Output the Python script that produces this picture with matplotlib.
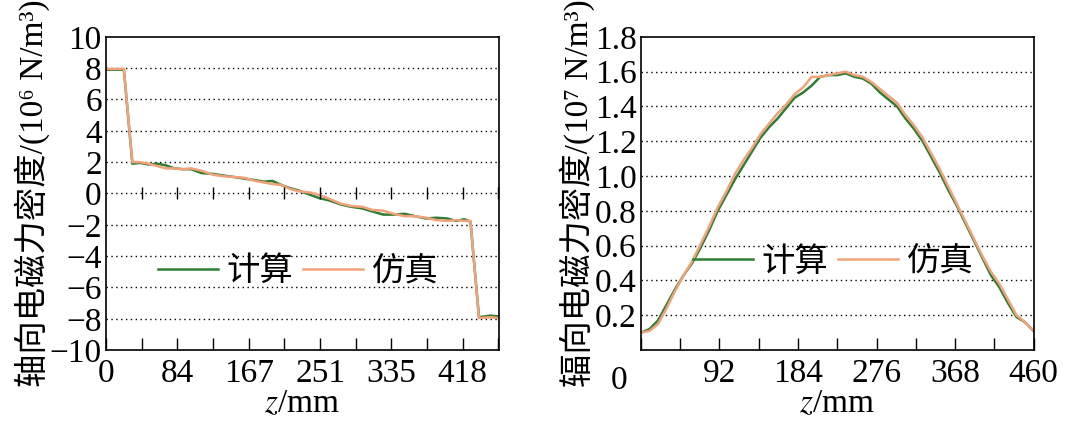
import numpy as np
import matplotlib
matplotlib.use("Agg")
import matplotlib.pyplot as plt

plt.rcParams['font.family'] = ['Liberation Serif', 'DejaVu Serif', 'Noto Sans CJK SC']
plt.rcParams['mathtext.fontset'] = 'stix'

# ---- 数据 ----
z_ax_calc = [0, 10, 21, 31, 40, 50, 60, 70, 80, 90, 100, 112, 125, 137, 150, 162, 175, 185, 195,
             205, 215, 225, 240, 250, 262, 275, 287, 300, 312, 325, 337, 350, 362, 375, 387, 400,
             410, 420, 427, 437, 450, 460]
f_ax_calc = [7.9, 7.9, 7.9, 1.9, 1.95, 1.85, 1.9, 1.8, 1.6, 1.55, 1.55, 1.3, 1.25, 1.15, 1.05, 0.95,
             0.85, 0.75, 0.8, 0.55, 0.35, 0.2, -0.1, -0.3, -0.45, -0.7, -0.85, -0.95, -1.15, -1.35,
             -1.35, -1.3, -1.45, -1.6, -1.55, -1.6, -1.75, -1.65, -1.8, -7.9, -7.8, -7.85]
z_ax_sim = [0, 10, 21, 31, 40, 50, 60, 70, 80, 90, 100, 112, 125, 137, 150, 162, 175, 185, 195,
            205, 215, 225, 240, 250, 262, 275, 287, 300, 312, 325, 337, 350, 362, 375, 387, 400,
            410, 420, 427, 437, 450, 460]
f_ax_sim = [7.95, 7.95, 7.95, 2.0, 2.0, 1.9, 1.75, 1.6, 1.6, 1.55, 1.6, 1.45, 1.2, 1.1, 1.05, 1.0,
            0.8, 0.7, 0.6, 0.55, 0.3, 0.15, 0.05, -0.1, -0.35, -0.65, -0.8, -0.85, -1.05, -1.1,
            -1.3, -1.45, -1.45, -1.55, -1.7, -1.75, -1.7, -1.75, -1.75, -7.95, -7.9, -7.95]

z_rad = [0, 10, 20, 30, 40, 50, 60, 70, 80, 90, 100, 110, 120, 130, 140, 150, 160, 170, 180, 190,
         200, 210, 220, 230, 240, 250, 260, 270, 280, 290, 300, 310, 320, 330, 340, 350, 360, 370,
         380, 390, 400, 410, 420, 430, 440, 450, 460]
f_rad_calc = [0.10, 0.12, 0.17, 0.26, 0.35, 0.43, 0.50, 0.59, 0.69, 0.80, 0.89, 0.98, 1.06, 1.14,
              1.22, 1.28, 1.33, 1.39, 1.45, 1.48, 1.52, 1.57, 1.58, 1.58, 1.59, 1.57, 1.56, 1.53,
              1.48, 1.44, 1.40, 1.33, 1.27, 1.20, 1.11, 1.02, 0.92, 0.83, 0.73, 0.63, 0.53, 0.43,
              0.36, 0.27, 0.19, 0.16, 0.11]
f_rad_sim = [0.10, 0.11, 0.15, 0.24, 0.34, 0.43, 0.51, 0.61, 0.71, 0.82, 0.91, 1.01, 1.09, 1.16,
             1.24, 1.30, 1.36, 1.41, 1.47, 1.51, 1.57, 1.57, 1.58, 1.59, 1.60, 1.58, 1.57, 1.54,
             1.50, 1.46, 1.42, 1.35, 1.29, 1.22, 1.13, 1.04, 0.94, 0.84, 0.74, 0.64, 0.54, 0.45,
             0.38, 0.29, 0.20, 0.16, 0.11]

green = '#2e7d32'
orange = '#f2a27a'
FS = 24

fig = plt.figure(figsize=(10.7, 4.28), dpi=100)
ax1 = fig.add_axes([0.099, 0.182, 0.367, 0.732])
ax2 = fig.add_axes([0.599, 0.182, 0.367, 0.732])

# ---- 左图 ----
ax1.plot(z_ax_calc, f_ax_calc, color=green, lw=1.8, label='计算')
ax1.plot(z_ax_sim, f_ax_sim, color=orange, lw=1.8, label='仿真')
ax1.set_xlim(0, 460)
ax1.set_ylim(-10, 10)
minor1 = [41.8 * i for i in range(12)]
ax1.set_xticks(minor1[::2])
ax1.set_xticklabels(['0', '84', '167', '251', '335', '418'])
ax1.set_xticks(minor1[1::2], minor=True)
ax1.set_yticks(range(-10, 11, 2))
ax1.set_yticklabels([str(v).replace('-', '\u2212') for v in range(-10, 11, 2)])
for y in range(-8, 10, 2):
    ax1.axhline(y, color='black', lw=1, ls=(0, (1, 2.5)), zorder=0)
ax1.plot(minor1[1:], [0] * len(minor1[1:]), ls='none', marker='|', ms=9, mew=1, color='black')
ax1.set_ylabel('轴向电磁力密度/(10⁶ N/m³)', fontsize=FS, labelpad=0)
ax1.set_xlabel('$z$/mm', fontsize=FS, labelpad=0)
ax1.legend(loc='center', bbox_to_anchor=(0.49, 0.25), frameon=False, ncol=2, fontsize=FS,
           handlelength=1.8, columnspacing=0.3, handletextpad=0.25)

# ---- 右图 ----
ax2.plot(z_rad, f_rad_calc, color=green, lw=1.8, label='计算')
ax2.plot(z_rad, f_rad_sim, color=orange, lw=1.8, label='仿真')
ax2.set_xlim(0, 460)
ax2.set_ylim(0, 1.8)
ax2.set_xticks([0, 92, 184, 276, 368, 460])
ax2.set_xticklabels(['', '92', '184', '276', '368', '460'])
ax2.set_xticks([46, 138, 230, 322, 414], minor=True)
ax2.set_yticks([0.2, 0.4, 0.6, 0.8, 1.0, 1.2, 1.4, 1.6, 1.8])
ax2.set_yticklabels(['0.2', '0.4', '0.6', '0.8', '1.0', '1.2', '1.4', '1.6', '1.8'])
for y in [0.2, 0.4, 0.6, 0.8, 1.0, 1.2, 1.4, 1.6]:
    ax2.axhline(y, color='black', lw=1, ls=(0, (1, 2.5)), zorder=0)
ax2.text(-26, -0.09, '0', fontsize=FS, ha='center', va='top')
ax2.set_ylabel('辐向电磁力密度/(10⁷ N/m³)', fontsize=FS, labelpad=0)
ax2.set_xlabel('$z$/mm', fontsize=FS, labelpad=0)
ax2.legend(loc='center', bbox_to_anchor=(0.49, 0.28), frameon=False, ncol=2, fontsize=FS,
           handlelength=1.8, columnspacing=0.3, handletextpad=0.25)

for ax in (ax1, ax2):
    ax.tick_params(axis='x', which='both', direction='in', length=9, width=1, labelsize=FS, pad=6)
    ax.tick_params(axis='y', which='both', length=0, labelsize=FS, pad=3)
    for s in ax.spines.values():
        s.set_linewidth(1.2)

fig.savefig('out.png', dpi=100)
